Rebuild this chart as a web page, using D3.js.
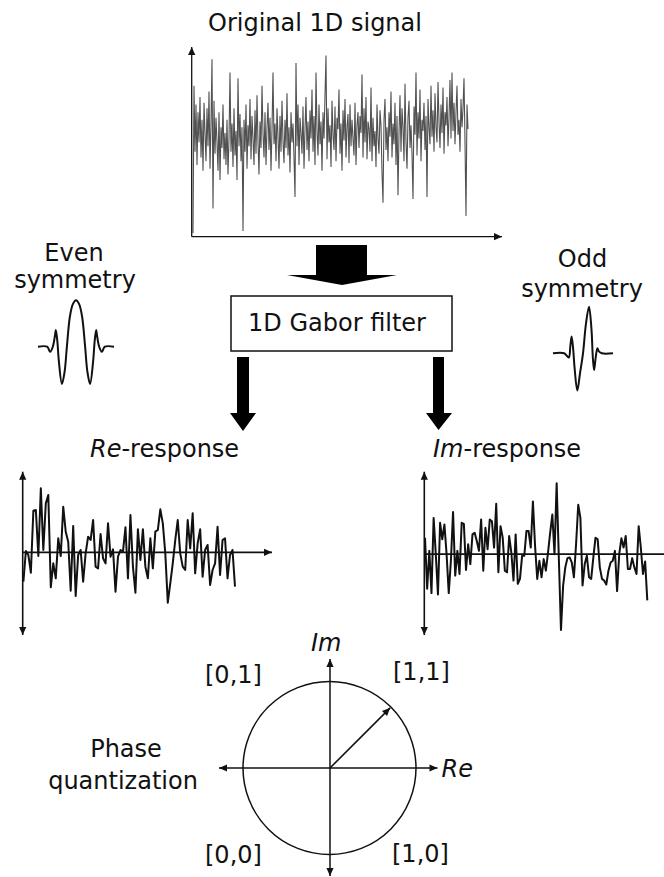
<!DOCTYPE html>
<html>
<head>
<meta charset="utf-8">
<script src="https://cdn.jsdelivr.net/npm/d3@7"></script>
<style>
  body { margin: 0; background: #fff; }
  text { font-family: "DejaVu Sans", sans-serif; font-size: 24px; fill: #111; }
</style>
</head>
<body>
<div id="chart"></div>
<script>
// original 1D signal (0 = x axis, 100 = top of y axis)
const signal = [
  2, 80, 45, 70, 38, 66, 50, 74, 42, 62, 35, 71, 55, 40, 68, 48, 77, 36, 60, 94,
  15, 72, 44, 63, 50, 35, 66, 30, 58, 47, 70, 41, 55, 38, 62, 33, 52, 87, 45, 60,
  37, 68, 43, 56, 30, 84, 48, 65, 40, 58, 3, 62, 45, 70, 36, 59, 48, 73, 41, 64,
  52, 38, 67, 44, 75, 50, 33, 61, 47, 80, 55, 42, 66, 38, 58, 71, 46, 63, 35, 57,
  87, 49, 60, 40, 68, 53, 36, 64, 45, 72, 51, 39, 62, 47, 76, 43, 58, 34, 66, 50,
  60, 42, 21, 92, 48, 70, 38, 63, 55, 44, 69, 36, 57, 74, 46, 61, 40, 67, 52, 78,
  45, 64, 38, 87, 56, 43, 70, 49, 61, 35, 66, 52, 75, 96, 41, 68, 50, 59, 37, 72,
  54, 46, 69, 40, 63, 57, 78, 44, 60, 35, 67, 51, 73, 42, 58, 65, 39, 70, 48, 62,
  52, 43, 71, 38, 59, 66, 47, 64, 55, 86, 42, 68, 50, 74, 41, 61, 57, 45, 79, 40,
  63, 48, 56, 37, 70, 52, 44, 67, 59, 34, 18, 62, 73, 46, 58, 40, 66, 53, 77, 42,
  60, 49, 71, 38, 64, 22, 55, 75, 45, 68, 58, 40, 81, 50, 36, 63, 72, 47, 59, 44,
  20, 69, 54, 87, 43, 66, 52, 78, 40, 62, 56, 71, 46, 64, 21, 73, 58, 49, 80, 53,
  67, 45, 76, 58, 50, 82, 61, 47, 70, 55, 79, 44, 66, 59, 74, 48, 63, 83, 52, 87,
  56, 71, 49, 66, 80, 54, 62, 45, 73, 58, 68, 84, 50, 11, 70, 57
];

// Re-response (real part of the filter output)
const reValues = [
  -88, 4, -8, -61, 125, 127, -11, 192, 7, 147, 172, -105, -33, -78, 42, -11, 137, 62, 32, -115,
  79, -131, -8, 7, -88, -3, 47, 37, 97, -43, -48, 55, -18, -33, 87, -13, 9, -118, -13, 7,
  2, 75, -78, 112, -43, -121, 69, -23, 69, -43, -78, 42, -48, 62, 67, 129, 87, -3, -151, -93,
  -33, 37, 97, -3, -43, -53, 97, 12, 117, -63, 27, 69, -73, 7, 22, -98, -53, -33, 77, -68,
  37, 42, -78, -8, 7, -103
];

// Im-response (imaginary part of the filter output)
const imValues = [
  50, -105, 10, -118, 110, 0, -122, 95, 45, 90, 0, -118, -20, 128, -65, 10, -60, 95, 92, -48,
  30, -30, 60, 65, 40, 10, 105, -50, 80, 15, 105, 100, 20, 153, -55, 85, 50, -50, -55, 55,
  5, -80, 60, -90, -75, -5, -5, 70, 70, 20, 160, 25, -75, -20, -70, -15, -50, 5, 65, 120,
  0, 215, -10, -230, -95, -40, -12, -10, -25, -70, 30, 150, 110, -95, -30, -5, -70, -75, -10, 50,
  45, -40, -75, -80, -92, -50, -25, -20, 10, -112, 0, 48, 20, 55, -45, -45, -12, -40, -60, 85,
  20, -60, -22, -140
];

// even (cosine) Gabor kernel
const evenT = [-1, -0.76, -0.68, -0.61, -0.55, -0.53, -0.49, -0.45, -0.37, -0.30, -0.24, -0.16, -0.08, 0,
  0.08, 0.16, 0.24, 0.30, 0.37, 0.45, 0.49, 0.53, 0.55, 0.61, 0.68, 0.76, 1];
const evenV = [0, 0, -0.11, 0, 0.26, 0.36, 0.11, -0.32, -0.80, -0.54, 0, 0.65, 0.92, 1,
  0.92, 0.65, 0, -0.54, -0.80, -0.32, 0.11, 0.36, 0.26, 0, -0.11, 0, 0];

// odd (sine) Gabor kernel
const oddT = [-1, -0.63, -0.53, -0.47, -0.42, -0.38, -0.33, -0.28, -0.19, -0.10, 0,
  0.10, 0.20, 0.28, 0.33, 0.37, 0.42, 0.48, 0.53, 0.63, 1];
const oddV = [0, 0, -0.06, -0.09, 0.17, 0.36, 0.11, -0.32, -0.80, -0.43, 0,
  0.64, 1, 0.54, -0.11, -0.36, -0.11, 0.11, 0.04, 0, 0];

const quadrantLabels = ["[0,1]", "[1,1]", "[0,0]", "[1,0]"];
const phaseAngle = 45;

const W = 664, H = 877;
const svg = d3.select("#chart").append("svg")
  .attr("width", W).attr("height", H)
  .attr("xmlns", "http://www.w3.org/2000/svg");

const defs = svg.append("defs");
defs.append("marker")
  .attr("id", "ah")
  .attr("viewBox", "0 0 10 10")
  .attr("refX", 10).attr("refY", 5)
  .attr("markerWidth", 9).attr("markerHeight", 8)
  .attr("markerUnits", "userSpaceOnUse")
  .attr("orient", "auto-start-reverse")
  .append("path").attr("d", "M0,0.5 L10,5 L0,9.5 Z").attr("fill", "#111");

const axisLine = (x1, y1, x2, y2, both, w) => {
  const l = svg.append("line")
    .attr("x1", x1).attr("y1", y1).attr("x2", x2).attr("y2", y2)
    .attr("stroke", "#111").attr("stroke-width", w || 1.5)
    .attr("marker-end", "url(#ah)");
  if (both) l.attr("marker-start", "url(#ah)");
  return l;
};

const txt = (s, x, y, anchor) => svg.append("text")
  .attr("x", x).attr("y", y).attr("text-anchor", anchor || "start").text(s);

// ---- original signal ----
txt("Original 1D signal", 315, 31, "middle");
const sx = d3.scaleLinear().domain([0, signal.length - 1]).range([193, 468]);
const sy = d3.scaleLinear().domain([0, 100]).range([236.7, 48]);
svg.append("path")
  .datum(signal)
  .attr("d", d3.line().x((d, i) => sx(i)).y(d => sy(d)))
  .attr("fill", "none").attr("stroke", "#262626")
  .attr("stroke-width", 1.1).attr("stroke-opacity", 0.8);
axisLine(191.7, 236.7, 191.7, 47, false, 1.3);
axisLine(191.7, 236.7, 502, 236.7, false, 1.3);

// ---- big arrow + filter box ----
svg.append("path")
  .attr("d", "M316,245 H367 V275 H397 L342,285 L287,275 H316 Z")
  .attr("fill", "#000");
svg.append("rect").attr("x", 231).attr("y", 296).attr("width", 221).attr("height", 55)
  .attr("fill", "#fff").attr("stroke", "#111").attr("stroke-width", 1.5);
txt("1D Gabor filter", 337, 330.5, "middle");
[[237, 249, 243, 230, 256, 431], [433, 444, 438.5, 426, 452, 430]].forEach(a => {
  svg.append("path")
    .attr("d", `M${a[0]},357 H${a[1]} V413 H${a[4]} L${a[2]},${a[5]} L${a[3]},413 H${a[0]} Z`)
    .attr("fill", "#000");
});

// ---- Gabor kernels ----
txt("Even", 74, 260.5, "middle");
txt("symmetry", 75, 288, "middle");
txt("Odd", 582.5, 266.5, "middle");
txt("symmetry", 582, 296.5, "middle");

const drawKernel = (T, V, x0, x1, base, amp) => {
  const kx = d3.scaleLinear().domain([-1, 1]).range([x0, x1]);
  const ky = d3.scaleLinear().domain([0, 1]).range([base, base - amp]);
  svg.append("path")
    .datum(d3.zip(T, V))
    .attr("d", d3.line().x(d => kx(d[0])).y(d => ky(d[1])).curve(d3.curveCatmullRom.alpha(0.5)))
    .attr("fill", "none").attr("stroke", "#111").attr("stroke-width", 2);
};
drawKernel(evenT, evenV, 38, 114, 346.7, 46.5);
drawKernel(oddT, oddV, 553, 613, 353.3, 46.6);

// ---- responses ----
const drawResponse = (vals, x0, x1, yTop, yBot, vTop, vBot, xEnd, arrowX) => {
  const rx = d3.scaleLinear().domain([0, vals.length - 1]).range([x0 + 0.7, x1]);
  const ry = d3.scaleLinear().domain([vBot, vTop]).range([yBot, yTop]);
  svg.append("path")
    .datum(vals)
    .attr("d", d3.line().x((d, i) => rx(i)).y(d => ry(d)))
    .attr("fill", "none").attr("stroke", "#111").attr("stroke-width", 2)
    .attr("stroke-linejoin", "round");
  axisLine(x0, yBot, x0, yTop, true, 1.6);
  const xl = axisLine(x0, ry(0), xEnd, ry(0), false, 1.6);
  if (!arrowX) xl.attr("marker-end", null);
};
svg.append("text").attr("x", 90).attr("y", 456.5)
  .call(t => { t.append("tspan").attr("font-style", "italic").text("Re"); t.append("tspan").text("-response"); });
svg.append("text").attr("x", 433).attr("y", 456.5)
  .call(t => { t.append("tspan").attr("font-style", "italic").text("Im"); t.append("tspan").text("-response"); });

drawResponse(reValues, 22.7, 235, 471.7, 635, 242, -248, 272, true);
drawResponse(imValues, 424.3, 647.3, 471.7, 635, 250, -245, 664, false);

// ---- phase quantization ----
const cx = 330, cy = 768, R = 86.5;
svg.append("circle").attr("cx", cx - 0.5).attr("cy", cy).attr("r", R)
  .attr("fill", "none").attr("stroke", "#111").attr("stroke-width", 1.5);
axisLine(cx, cy, 437.5, cy, false, 1.5);
axisLine(cx, cy, 219, cy, false, 1.5);
axisLine(cx, cy, cx, 659, false, 1.5);
axisLine(cx, cy, cx, 876, false, 1.5);
const a = phaseAngle * Math.PI / 180;
axisLine(cx, cy, cx + R * Math.cos(a) - 1, cy - R * Math.sin(a) + 1, false, 1.6);

svg.append("text").attr("x", 311).attr("y", 650.5).attr("font-style", "italic").text("Im");
svg.append("text").attr("x", 441.5).attr("y", 776.5).attr("font-style", "italic").text("Re");
const qPos = [[205, 683], [393, 680], [205, 863], [392, 862]];
quadrantLabels.forEach((s, i) => txt(s, qPos[i][0], qPos[i][1]));
txt("Phase", 126, 757, "middle");
txt("quantization", 123, 789, "middle");
</script>
</body>
</html>
